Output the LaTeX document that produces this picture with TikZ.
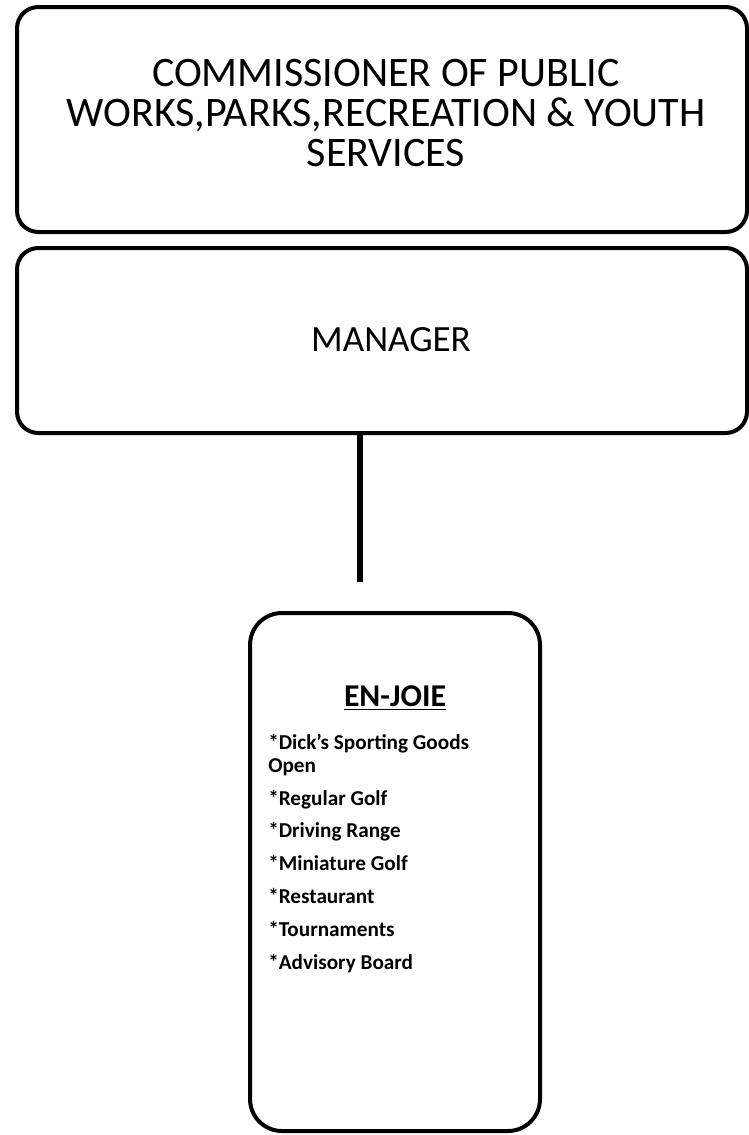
\documentclass[tikz,border=0pt]{standalone}
\usepackage{fontspec}
\setmainfont{Carlito}
\usepackage{tikz}
\usetikzlibrary{positioning}
\tikzset{box/.style = {draw, line width=3pt, rounded corners=16pt, inner sep=0pt}}
\tikzset{item/.style = {anchor=base west, inner sep=0pt, font=\fontsize{15.9}{17.6}\selectfont\bfseries}}

\begin{document}
\begin{tikzpicture}[x=0.75pt, y=-0.75pt]
                    \useasboundingbox (0,0) rectangle (749,1135);

                    \node[box, minimum width=547.5pt, minimum height=168.75pt] (comm) at (382,119.5) {};
                    \node[box, minimum width=547.5pt, minimum height=138.75pt] (mgr) at (382,340.5) {};
                    \node[box, rounded corners=24pt, minimum width=217.5pt, minimum height=388.5pt] (enjoie) at (395,872) {};

                    \node[align=center, font=\fontsize{31.5}{30}\selectfont] (commtext) at (386,113)
                        {COMMISSIONER OF PUBLIC\\WORKS,PARKS,RECREATION \& YOUTH\\SERVICES};
                    \node[font=\fontsize{27.75}{30}\selectfont] (mgrtext) at (391,340) {MANAGER};
                    \node[font=\fontsize{23.8}{26}\selectfont\bfseries] (head) at (395,698) {\underline{EN-JOIE}};

                    \node[item] (dick) at (268,749) {*Dick’s Sporting Goods};
                    \node[item] (open) at (268,772) {Open};
                    \node[item] (golf) at (268,805) {*Regular Golf};
                    \node[item] (range) at (268,837.8) {*Driving Range};
                    \node[item] (mini) at (268,870.6) {*Miniature Golf};
                    \node[item] (rest) at (268,903.4) {*Restaurant};
                    \node[item] (tour) at (268,936.2) {*Tournaments};
                    \node[item] (board) at (268,969) {*Advisory Board};

                    \coordinate (stub) at (360,582);
                    \draw[line width=4.5pt] (mgr.south -| stub) -- (stub);
                \end{tikzpicture}
\end{document}
